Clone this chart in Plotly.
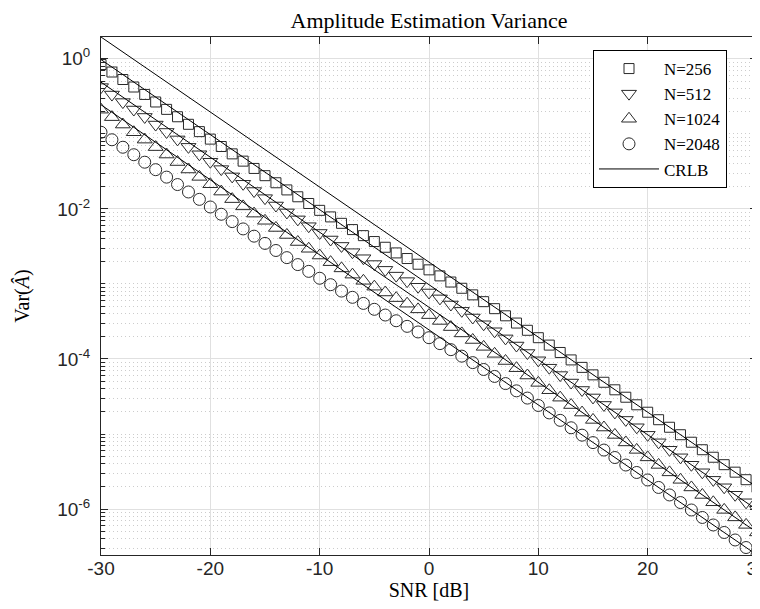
import math
import plotly.graph_objects as go

SNR_DB = list(range(-30, 31))

VAR_N256 = [0.839, 0.667, 0.530, 0.421, 0.335, 0.266, 0.212, 0.169, 0.134, 0.107,
            0.0851, 0.0678, 0.0541, 0.0433, 0.0346, 0.0277, 0.0223, 0.0179, 0.0145, 0.0118,
            0.00956, 0.00782, 0.00642, 0.00530, 0.00440, 0.00367, 0.00308, 0.00259, 0.00218, 0.00183,
            0.00154, 0.00128, 0.00106, 0.000875, 0.000715, 0.000580, 0.000468, 0.000376, 0.000301, 0.000241,
            1.92e-4, 1.53e-4, 1.22e-4, 9.71e-5, 7.72e-5, 6.14e-5, 4.89e-5, 3.88e-5, 3.09e-5, 2.45e-5,
            1.95e-5, 1.55e-5, 1.23e-5, 9.78e-6, 7.77e-6, 6.17e-6, 4.90e-6, 3.90e-6, 3.10e-6, 2.46e-6, 1.95e-6]

VAR_N512 = [0.420, 0.334, 0.265, 0.211, 0.168, 0.133, 0.106, 0.0843, 0.0671, 0.0534,
            0.0425, 0.0339, 0.0271, 0.0216, 0.0173, 0.0139, 0.0111, 0.00897, 0.00725, 0.00588,
            0.00478, 0.00391, 0.00321, 0.00265, 0.00220, 0.00184, 0.00154, 0.00129, 0.00109, 0.000917,
            0.000769, 0.000642, 0.000532, 0.000438, 0.000357, 0.000290, 0.000234, 0.000188, 0.000151, 0.000120,
            9.60e-5, 7.65e-5, 6.10e-5, 4.85e-5, 3.86e-5, 3.07e-5, 2.44e-5, 1.94e-5, 1.54e-5, 1.23e-5,
            9.75e-6, 7.75e-6, 6.16e-6, 4.89e-6, 3.89e-6, 3.09e-6, 2.45e-6, 1.95e-6, 1.55e-6, 1.23e-6, 9.77e-7]

VAR_N1024 = [0.210, 0.167, 0.133, 0.105, 0.0838, 0.0666, 0.0530, 0.0421, 0.0335, 0.0267,
             0.0213, 0.0170, 0.0135, 0.0108, 0.00865, 0.00694, 0.00557, 0.00449, 0.00362, 0.00294,
             0.00239, 0.00195, 0.00161, 0.00133, 0.00110, 0.000919, 0.000769, 0.000647, 0.000545, 0.000458,
             0.000384, 0.000321, 0.000266, 0.000219, 0.000179, 0.000145, 0.000117, 9.39e-5, 7.53e-5, 6.02e-5,
             4.80e-5, 3.83e-5, 3.05e-5, 2.43e-5, 1.93e-5, 1.54e-5, 1.22e-5, 9.71e-6, 7.72e-6, 6.14e-6,
             4.88e-6, 3.87e-6, 3.08e-6, 2.45e-6, 1.94e-6, 1.54e-6, 1.23e-6, 9.74e-7, 7.74e-7, 6.15e-7, 4.88e-7]

VAR_N2048 = [0.105, 0.0834, 0.0663, 0.0527, 0.0419, 0.0333, 0.0265, 0.0211, 0.0168, 0.0134,
             0.0106, 0.00848, 0.00677, 0.00541, 0.00433, 0.00347, 0.00279, 0.00224, 0.00181, 0.00147,
             0.00119, 0.000977, 0.000803, 0.000663, 0.000550, 0.000459, 0.000385, 0.000323, 0.000272, 0.000229,
             0.000192, 0.000160, 0.000133, 0.000109, 8.94e-5, 7.24e-5, 5.85e-5, 4.70e-5, 3.76e-5, 3.01e-5,
             2.40e-5, 1.91e-5, 1.52e-5, 1.21e-5, 9.65e-6, 7.68e-6, 6.11e-6, 4.86e-6, 3.86e-6, 3.07e-6,
             2.44e-6, 1.94e-6, 1.54e-6, 1.22e-6, 9.71e-7, 7.72e-7, 6.13e-7, 4.87e-7, 3.87e-7, 3.07e-7, 2.44e-7]

CRLB_SNR = [-30, 30]
CRLB_N256 = [1.953, 1.953e-6]
CRLB_N512 = [0.9766, 9.766e-7]
CRLB_N1024 = [0.4883, 4.883e-7]
CRLB_N2048 = [0.2441, 2.441e-7]

SERIES = [("N=256", VAR_N256, "square-open", 10),
          ("N=512", VAR_N512, "triangle-down-open", 13),
          ("N=1024", VAR_N1024, "triangle-up-open", 13),
          ("N=2048", VAR_N2048, "circle-open", 12)]
CRLBS = [CRLB_N256, CRLB_N512, CRLB_N1024, CRLB_N2048]

X_TICKS = [-30, -20, -10, 0, 10, 20, 30]
X_TICK_TEXT = ["-30", "-20", "-10", "0", "10", "20", "30"]
Y_TICKS = [1e-6, 1e-4, 1e-2, 1e0]
Y_TICK_TEXT = ["10<sup>-6</sup>", "10<sup>-4</sup>", "10<sup>-2</sup>", "10<sup>0</sup>"]

AX = "#262626"
MK = "#2a2a2a"
SERIF = "Liberation Serif, Times New Roman, serif"
SANS = "Liberation Sans, Arial, Helvetica, sans-serif"

fig = go.Figure()
for name, vals, sym, sz in SERIES:
    fig.add_trace(go.Scatter(x=SNR_DB, y=vals, mode="markers", name=name,
                             marker=dict(symbol=sym, size=sz, color=MK,
                                         line=dict(width=1, color=MK))))
for i, c in enumerate(CRLBS):
    fig.add_trace(go.Scatter(x=CRLB_SNR, y=c, mode="lines", name="CRLB",
                             showlegend=(i == 0),
                             line=dict(color="#000000", width=1)))

all_vals = [v for _, s, _, _ in SERIES for v in s] + [v for c in CRLBS for v in c]
ymin = math.log10(min(all_vals))
ymax = math.log10(max(all_vals))

minor = []
for d in range(-8, 2):
    for m in range(1, 10):
        v = m * 10 ** d
        if ymin <= math.log10(v) <= ymax and v not in Y_TICKS:
            minor.append(v)

fig.update_layout(
    width=760, height=609, autosize=False,
    margin=dict(l=93, r=11, t=29, b=62),
    paper_bgcolor="white", plot_bgcolor="white",
    title=dict(text="Amplitude Estimation Variance", x=421 / 760, xanchor="center",
               y=1 - 12 / 609, yanchor="middle",
               font=dict(family=SERIF, size=22, color="#000")),
    xaxis=dict(range=[-30, 30], tickvals=X_TICKS, ticktext=X_TICK_TEXT, ticks="inside", ticklen=7,
               tickcolor=AX, showline=True, linecolor=AX, linewidth=1, mirror="ticks",
               showgrid=True, gridcolor="#e0e0e0", gridwidth=1, zeroline=False, automargin=False,
               tickfont=dict(family=SANS, size=19, color=AX), ticklabelstandoff=-4,
               title=dict(text="SNR [dB]", font=dict(family=SERIF, size=20, color="#000"), standoff=0)),
    yaxis=dict(type="log", range=[ymin, ymax], tickvals=Y_TICKS, ticktext=Y_TICK_TEXT,
               ticks="inside", ticklen=7, tickcolor=AX, showline=True, linecolor=AX, linewidth=1,
               mirror="ticks", showgrid=True, gridcolor="#e0e0e0", gridwidth=1, zeroline=False,
               automargin=False,
               tickfont=dict(family=SANS, size=19, color=AX), ticklabelstandoff=6,
               title=dict(text="Var(<i>Â</i>)", font=dict(family=SERIF, size=20, color="#000"), standoff=22)),
    yaxis2=dict(type="log", range=[ymin, ymax], overlaying="y", anchor="x", side="left",
                tickvals=minor, showticklabels=False, ticks="inside", ticklen=4, tickcolor=AX,
                mirror="ticks", showline=False, showgrid=True, gridcolor="#cccccc",
                griddash="1px,3px", gridwidth=1, zeroline=False, automargin=False),
    legend=dict(x=(585 - 93) / 656, y=(547 - 42) / 518, xanchor="left", yanchor="top",
                bgcolor="white", bordercolor="#000", borderwidth=1,
                font=dict(family=SERIF, size=17, color="#000"), itemwidth=60,
                tracegroupgap=0),
    showlegend=True,
)
fig.add_trace(go.Scatter(x=[None], y=[None], yaxis="y2", showlegend=False, hoverinfo="skip"))

fig.write_html("out.html")
